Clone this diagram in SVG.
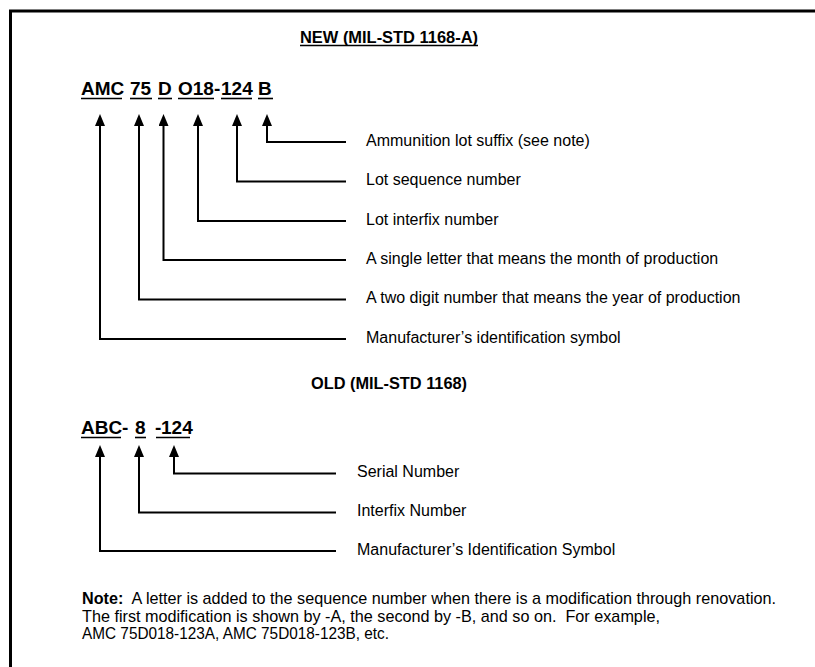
<svg xmlns="http://www.w3.org/2000/svg" width="815" height="667" viewBox="0 0 815 667">
<style>
.t{font-family:"Liberation Sans",Arial,sans-serif;fill:#000}
.code{font-size:19px;font-weight:bold}
.title{font-size:16px;font-weight:bold}
.lbl{font-size:16px}
.note{font-size:17px;white-space:pre}
.ul{stroke:#000;stroke-width:1.6}
.con{fill:none;stroke:#000;stroke-width:2}
</style>
<defs>
<marker id="ah" viewBox="0 0 12 10" refX="0" refY="5" markerWidth="12" markerHeight="10" markerUnits="userSpaceOnUse" orient="auto">
<path d="M0,0 L12,5 L0,10 z" fill="#000"/>
</marker>
</defs>
<rect width="815" height="667" fill="#fff"/>
<g id="frame" fill="none" stroke="#000" stroke-width="3">
<path d="M10.5,667 V11 H815"/>
</g>
<g id="title-new">
<text class="t title" x="300" y="43" textLength="178" lengthAdjust="spacingAndGlyphs">NEW (MIL-STD 1168-A)</text>
<line class="ul" x1="300" y1="45.5" x2="478" y2="45.5"/>
</g>
<g id="code-new">
<text class="t code" y="95"><tspan x="81">AMC</tspan><tspan x="130">75</tspan><tspan x="158">D</tspan><tspan x="178">O18</tspan><tspan x="214">-</tspan><tspan x="221">124</tspan><tspan x="258">B</tspan></text>
<g class="ul">
<line x1="81" y1="98.5" x2="122" y2="98.5"/>
<line x1="130" y1="98.5" x2="152" y2="98.5"/>
<line x1="158" y1="98.5" x2="172" y2="98.5"/>
<line x1="178" y1="98.5" x2="214" y2="98.5"/>
<line x1="221" y1="98.5" x2="252" y2="98.5"/>
<line x1="258" y1="98.5" x2="273" y2="98.5"/>
</g>
</g>
<g id="connectors">
<path class="con" marker-end="url(#ah)" d="M346,142 H267 V126"/>
<path class="con" marker-end="url(#ah)" d="M346,181.5 H237 V126"/>
<path class="con" marker-end="url(#ah)" d="M346,221 H198 V126"/>
<path class="con" marker-end="url(#ah)" d="M346,260 H163.5 V126"/>
<path class="con" marker-end="url(#ah)" d="M346,299.5 H139 V126"/>
<path class="con" marker-end="url(#ah)" d="M346,339 H100 V126"/>
<path class="con" marker-end="url(#ah)" d="M336,473.5 H174 V457"/>
<path class="con" marker-end="url(#ah)" d="M336,512.5 H139 V457"/>
<path class="con" marker-end="url(#ah)" d="M336,551 H100 V457"/>
</g>
<g id="label-suffix"><text class="t lbl" x="366" y="145.5">Ammunition lot suffix (see note)</text></g>
<g id="label-sequence"><text class="t lbl" x="366" y="185">Lot sequence number</text></g>
<g id="label-interfix"><text class="t lbl" x="366" y="224.5">Lot interfix number</text></g>
<g id="label-month"><text class="t lbl" x="366" y="263.5">A single letter that means the month of production</text></g>
<g id="label-year"><text class="t lbl" x="366" y="303">A two digit number that means the year of production</text></g>
<g id="label-mfr"><text class="t lbl" x="366" y="342.5">Manufacturer’s identification symbol</text></g>
<g id="title-old">
<text class="t title" x="311" y="389" textLength="156" lengthAdjust="spacingAndGlyphs">OLD (MIL-STD 1168)</text>
</g>
<g id="code-old">
<text class="t code" y="434"><tspan x="81">ABC</tspan><tspan x="122">-</tspan><tspan x="135">8</tspan><tspan x="155">-</tspan><tspan x="161">124</tspan></text>
<g class="ul">
<line x1="81" y1="437.5" x2="121" y2="437.5"/>
<line x1="135" y1="437.5" x2="146" y2="437.5"/>
<line x1="156" y1="437.5" x2="190" y2="437.5"/>
</g>
</g>
<g id="label-serial"><text class="t lbl" x="357" y="477">Serial Number</text></g>
<g id="label-interfix-old"><text class="t lbl" x="357" y="516">Interfix Number</text></g>
<g id="label-mfr-old"><text class="t lbl" x="357" y="554.5">Manufacturer’s Identification Symbol</text></g>
<g id="note">
<text class="t note" x="82" y="604" textLength="694" lengthAdjust="spacingAndGlyphs" xml:space="preserve"><tspan font-weight="bold">Note:</tspan>  A letter is added to the sequence number when there is a modification through renovation.</text>
<text class="t note" x="82" y="621.5" textLength="578" lengthAdjust="spacingAndGlyphs" xml:space="preserve">The first modification is shown by -A, the second by -B, and so on.  For example,</text>
<text class="t note" x="82" y="639" textLength="307" lengthAdjust="spacingAndGlyphs">AMC 75D018-123A, AMC 75D018-123B, etc.</text>
</g>
</svg>
